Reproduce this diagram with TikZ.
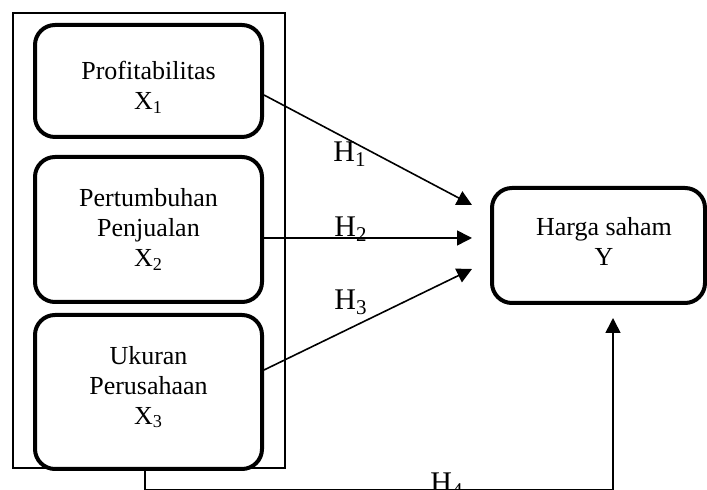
\documentclass[tikz,border=0pt]{standalone}
\usepackage{fontspec}
\setmainfont{Liberation Serif}
\usetikzlibrary{arrows.meta}

\begin{document}
\begin{tikzpicture}[x=0.5pt,y=-0.5pt,
    varbox/.style={rectangle,draw,line width=2pt,rounded corners=10pt,minimum width=113.5pt},
    vartext/.style={align=center,font=\fontsize{13}{15}\selectfont},
    hyp/.style={anchor=base,font=\fontsize{15}{17}\selectfont},
    link/.style={-{Triangle[length=7.5pt,width=7.5pt]},line width=0.8pt}]
    \useasboundingbox (0,0) rectangle (707,490);

    % nodes
    \node (frame) at (149,240.5) [rectangle,draw,line width=0.75pt,minimum width=136pt,minimum height=227.5pt] {};
    \node (x1) at (148.5,81) [varbox,minimum height=56pt] {};
    \node (x2) at (148.5,229.5) [varbox,minimum height=72.5pt] {};
    \node (x3) at (148.5,392) [varbox,minimum height=77pt] {};
    \node (y) at (598.5,245.5) [varbox,minimum width=106.5pt,minimum height=57.5pt] {};
    \node (x1t) at ([yshift=-3pt]x1.center) [vartext] {Profitabilitas\\X\textsubscript{1}};
    \node (x2t) at ([yshift=0pt]x2.center) [vartext] {Pertumbuhan\\Penjualan\\X\textsubscript{2}};
    \node (x3t) at ([yshift=2.5pt]x3.center) [vartext] {Ukuran\\Perusahaan\\X\textsubscript{3}};
    \node (yt) at ([xshift=2.75pt,yshift=2.25pt]y.center) [vartext] {Harga saham\\Y};
    \coordinate (y1e) at (472,205);
    \coordinate (y2e) at (472,238);
    \coordinate (y3e) at (472,269);
    \coordinate (y4e) at (613,318);
    \node (h1) at (350,162) [hyp] {H\textsubscript{1}};
    \node (h2) at (351,237) [hyp] {H\textsubscript{2}};
    \node (h3) at (351,310) [hyp] {H\textsubscript{3}};
    \node (h4) at (447,493) [hyp] {H\textsubscript{4}};

    % paths
    \draw[link] ([yshift=-7pt]x1.east) -- (y1e); % X1 -> Y
    \draw[link] ([yshift=-4.25pt]x2.east) -- (y2e); % X2 -> Y
    \draw[link] ([yshift=11pt]x3.east) -- (y3e); % X3 -> Y
    \draw[link] ([xshift=-1.75pt]x3.south) -- ++(0,19) -| (y4e); % X3 -> Y (H4)

\end{tikzpicture}
\end{document}
